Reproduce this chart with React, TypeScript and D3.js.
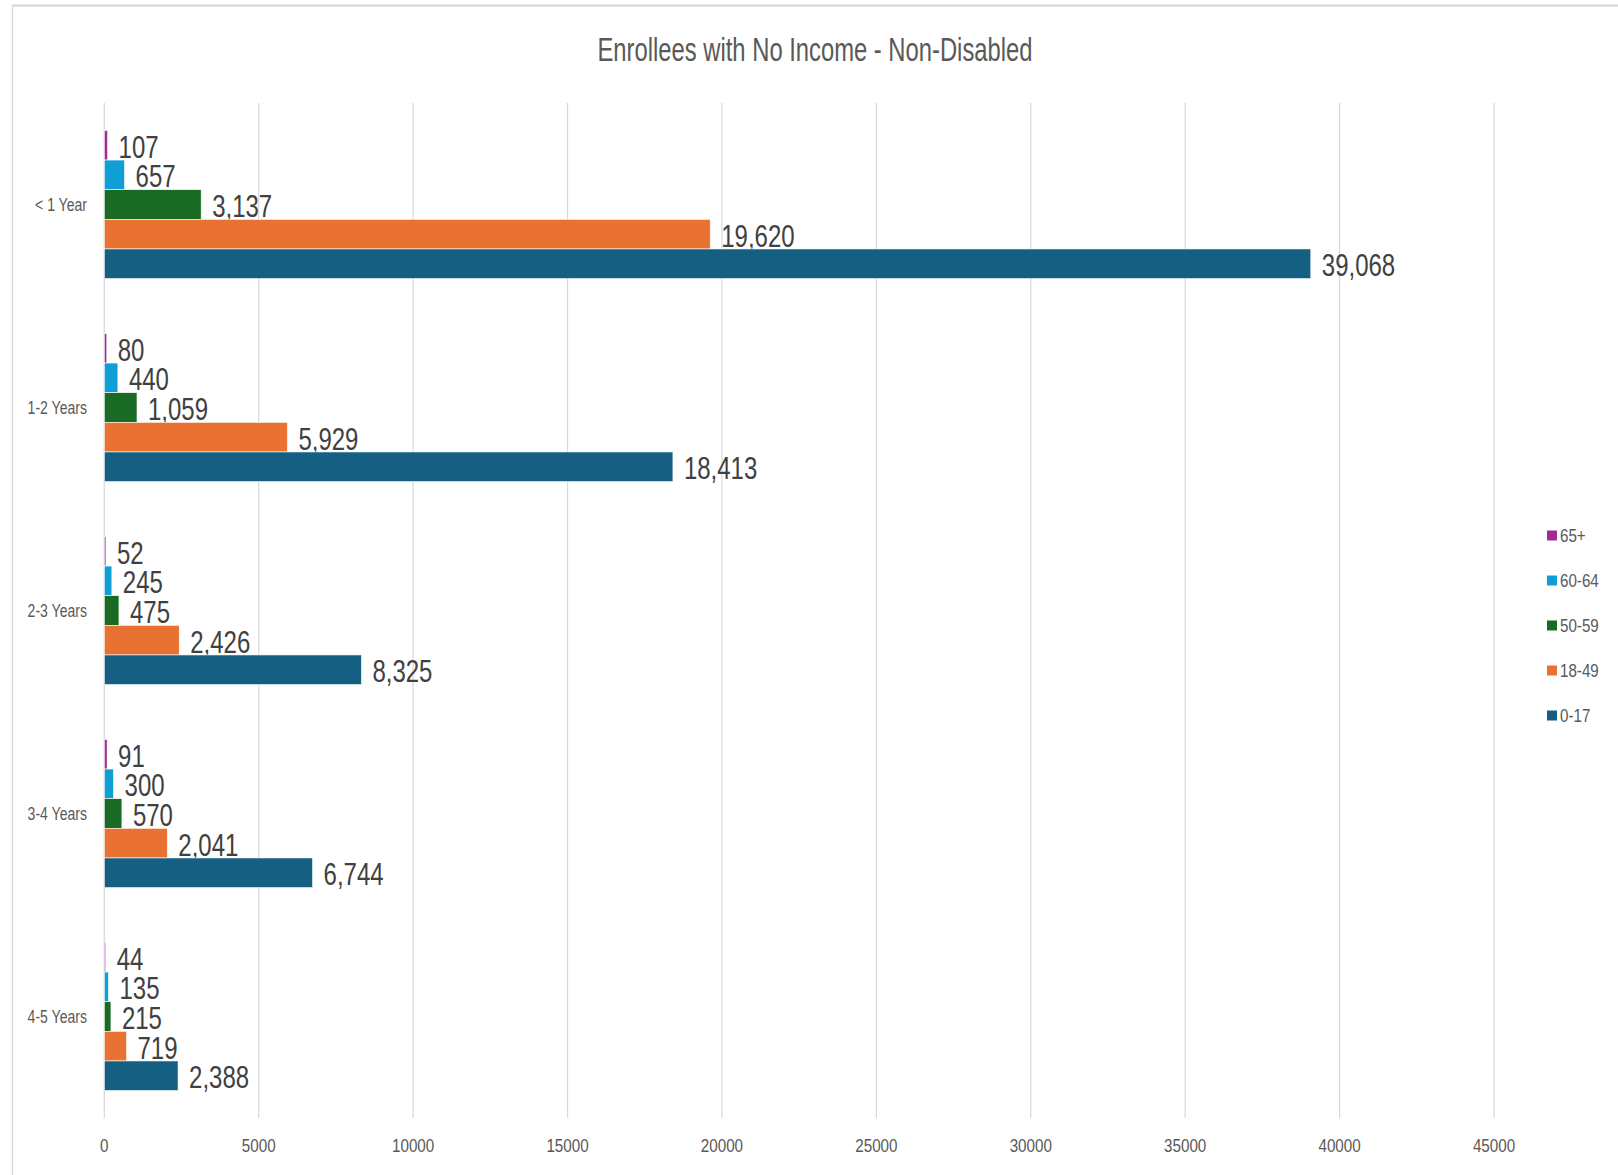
import React from "react";
import * as d3 from "d3";

const categories = ["< 1 Year", "1-2 Years", "2-3 Years", "3-4 Years", "4-5 Years"];
const seriesNames = ["65+", "60-64", "50-59", "18-49", "0-17"];
const seriesColors = ["#A02B93", "#0F9ED5", "#196B24", "#E97132", "#156082"];
const values65plus = [107, 80, 52, 91, 44];
const values60to64 = [657, 440, 245, 300, 135];
const values50to59 = [3137, 1059, 475, 570, 215];
const values18to49 = [19620, 5929, 2426, 2041, 719];
const values0to17 = [39068, 18413, 8325, 6744, 2388];
const xTicks = [0, 5000, 10000, 15000, 20000, 25000, 30000, 35000, 40000, 45000];
const title = "Enrollees with No Income - Non-Disabled";

const seriesValues = [values65plus, values60to64, values50to59, values18to49, values0to17];

const W = 1618;
const H = 1175;
const FONT = "'Liberation Sans', Arial, sans-serif";

export default function App() {
  const x = d3.scaleLinear().domain([0, 45000]).range([104.3, 1494]);
  const y = d3.scaleBand<string>().domain(categories).range([103, 1118]).paddingInner(0.27).paddingOuter(0.135);
  const ySub = d3.scaleBand<string>().domain(seriesNames).range([0, y.bandwidth()]);
  const fmt = d3.format(",");

  return (
    <svg width={W} height={H} style={{ position: "absolute", left: 0, top: 0, background: "#fff" }}>
      <rect x={0} y={0} width={W} height={H} fill="#fff" />
      <line x1={12.5} x2={W} y1={5.5} y2={5.5} stroke="#d4d4d4" strokeWidth={2} />
      <line x1={12.5} x2={12.5} y1={5} y2={H} stroke="#d9d9d9" strokeWidth={1.5} />
      <text x={815} y={61} textAnchor="middle" fontFamily={FONT} fontSize={33} fill="#595959" textLength={435} lengthAdjust="spacingAndGlyphs">
        {title}
      </text>
      {xTicks.map((t) => (
        <g key={t}>
          <line x1={x(t)} x2={x(t)} y1={103} y2={1118} stroke="#d9d9d9" strokeWidth={1.2} />
          <text transform={`translate(${x(t)},${1151.5}) scale(0.8,1)`} textAnchor="middle" fontFamily={FONT} fontSize={19} fill="#595959">
            {t}
          </text>
        </g>
      ))}
      {categories.map((c) => (
        <text key={c} transform={`translate(87,${(y(c) as number) + y.bandwidth() / 2 + 6.5}) scale(0.76,1)`} textAnchor="end" fontFamily={FONT} fontSize={18.5} fill="#595959">
          {c}
        </text>
      ))}
      {seriesNames.map((s, si) => (
        <g key={s}>
          {categories.map((c, ci) => {
            const v = seriesValues[si][ci];
            const by = (y(c) as number) + (ySub(s) as number);
            const bh = ySub.bandwidth();
            const bx = x(0);
            const bw = x(v) - x(0);
            const lx = x(v) + 11;
            const ly = by + bh / 2 + 12.5;
            return (
              <g key={c}>
                <rect x={bx} y={by} width={bw} height={bh} fill={seriesColors[si]} stroke="#ffffff" strokeWidth={0.6} />
                <text transform={`translate(${lx},${ly}) scale(0.75,1)`} fontFamily={FONT} fontSize={32} fill="#404040">
                  {fmt(v)}
                </text>
              </g>
            );
          })}
        </g>
      ))}
      {seriesNames.map((s, si) => {
        const ly = 535.5 + si * 45;
        return (
          <g key={s}>
            <rect x={1547} y={ly - 5} width={10} height={10} fill={seriesColors[si]} />
            <text transform={`translate(1560,${ly + 6.5}) scale(0.82,1)`} fontFamily={FONT} fontSize={18.5} fill="#595959">
              {s}
            </text>
          </g>
        );
      })}
    </svg>
  );
}
